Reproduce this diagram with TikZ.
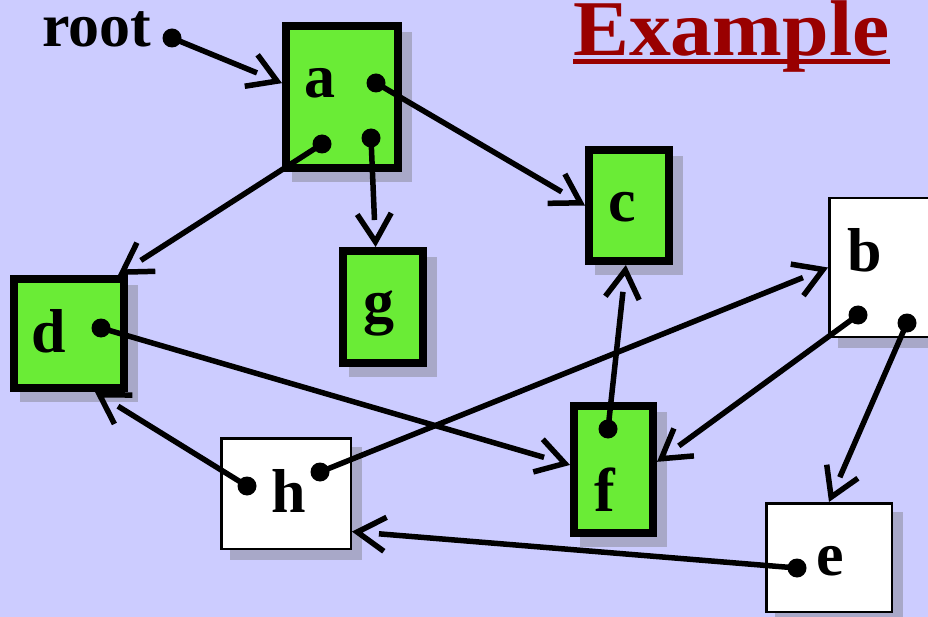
\documentclass[tikz,border=0pt]{standalone}
\usepackage{fontspec}
\setmainfont{Liberation Serif}
\usepackage{tikz}
\usetikzlibrary{arrows.meta,shadows,positioning}
\definecolor{slidebg}{RGB}{204,204,255}
\definecolor{livegreen}{RGB}{106,236,54}
\definecolor{shadowc}{RGB}{168,168,200}
\definecolor{titlered}{RGB}{153,0,0}
\tikzset{
  obj/.style={draw=black, rectangle, inner sep=0pt,
    drop shadow={shadow xshift=10pt, shadow yshift=-10pt, fill=shadowc, draw=shadowc, opacity=1}},
  live/.style={obj, fill=livegreen, line width=8pt},
  dead/.style={obj, fill=white, line width=2.5pt},
  lbl/.style={font=\fontsize{62}{70}\selectfont\bfseries, inner sep=0pt, anchor=base},
  dot/.style={circle, fill=black, inner sep=0pt, minimum size=19pt},
  % shaft stops at the back of the head, as on the slide
  ptr/.style={line width=5.5pt, shorten >=27pt,
    postaction={draw, shorten >=0pt, dash pattern=on 0pt off 5000pt,
      -{Straight Barb[length=28pt, width=34pt]}}},
}

\begin{document}
\begin{tikzpicture}[x=1pt, y=-1pt]
          \fill[slidebg] (0,0) rectangle (928,617);
          \useasboundingbox (0,0) rectangle (928,617);
          \clip (0,0) rectangle (928,617);
          % title
          \node[font=\fontsize{79}{90}\selectfont\bfseries, text=titlered, inner sep=0pt, anchor=base west]
            (title) at (573,56) {\scalebox{1.06}[1]{Example}};
          \draw[titlered, line width=5pt] ([yshift=-6pt]title.base west) -- ([yshift=-6pt]title.base east);
          % reachable objects
          \node[live, minimum width=112pt, minimum height=142pt] (a) at (342,97) {};
          \node[live, minimum width=80pt, minimum height=111pt] (c) at (629,205.5) {};
          \node[live, minimum width=80pt, minimum height=112pt] (g) at (383,307) {};
          \node[live, minimum width=110pt, minimum height=109pt] (d) at (69,333.5) {};
          \node[live, minimum width=79pt, minimum height=127pt] (f) at (613.5,469.5) {};
          % garbage
          \node[dead, minimum width=129.5pt, minimum height=110.5pt] (h) at (286,493.5) {};
          \node[dead, minimum width=129.5pt, minimum height=138.5pt] (b) at (894,267.5) {};
          \node[dead, minimum width=125.5pt, minimum height=108.5pt] (e) at (829,557.5) {};
          % names
          \node[lbl] (root) at (97,47) {root};
          \node[lbl] (a-name) at (320,98) {a};
          \node[lbl] (c-name) at (622,222) {c};
          \node[lbl] (g-name) at (379,322) {g};
          \node[lbl] (d-name) at (49,352) {d};
          \node[lbl] (f-name) at (605,511) {f};
          \node[lbl] (h-name) at (289,512) {h};
          \node[lbl] (b-name) at (865,272) {b};
          \node[lbl] (e-name) at (830,575) {e};
          % pointer fields
          \node[dot] (root-p) at (172,38) {};
          \node[dot] (a-r) at (376,83) {};
          \node[dot] (a-bl) at (322,144) {};
          \node[dot] (a-br) at (371,138) {};
          \node[dot] (d-p) at (101,328) {};
          \node[dot] (h-l) at (247,486) {};
          \node[dot] (h-r) at (320,472) {};
          \node[dot] (f-p) at (608,429) {};
          \node[dot] (b-l) at (858,315) {};
          \node[dot] (b-r) at (907,323) {};
          \node[dot] (e-p) at (797,568) {};
          % pointers
          \draw[ptr] (root-p.center) -- (a.167);
          \draw[ptr] (a-r.center) -- (c.west);
          \draw[ptr] (a-bl.center) -- (d.50);
          \draw[ptr] (a-br.center) -- (g.97);
          \draw[ptr] (d-p.center) -- (f.174);
          \draw[ptr] (h-l.center) -- (d.294);
          \draw[ptr] (h-r.center) -- (b.west);
          \draw[ptr] (f-p.center) -- (c.267);
          \draw[ptr] (b-l.center) -- (f.10);
          \draw[ptr] (b-r.center) -- (e.north);
          \draw[ptr] (e-p.center) -- (h.330);
\end{tikzpicture}
\end{document}
